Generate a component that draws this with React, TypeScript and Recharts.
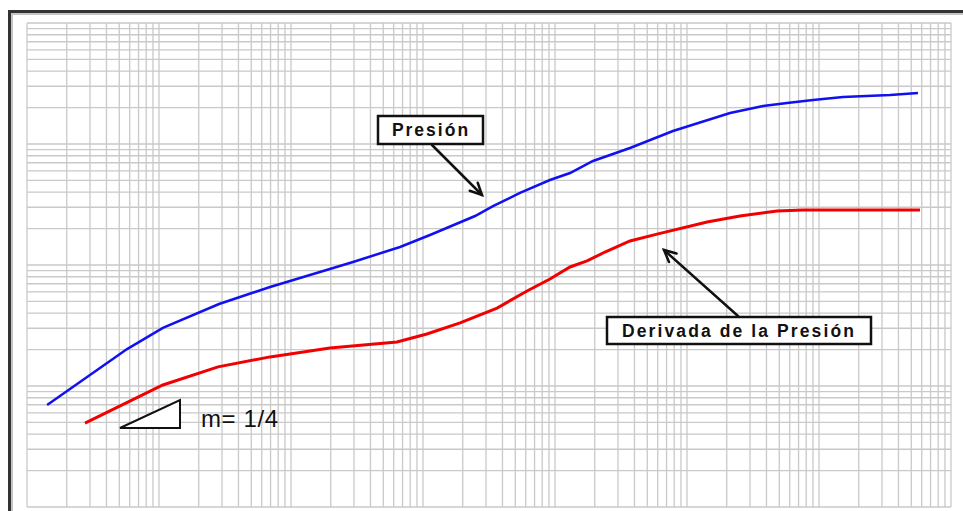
import React from "react";
import { LineChart, Line, XAxis, YAxis, ReferenceLine } from "recharts";

// Log-log grid: 7 decades of time, 4 decades of pressure
const X_DECADES = [0.001, 0.01, 0.1, 1, 10, 100, 1000];
const Y_DECADES = [1, 10, 100, 1000];
const MULTIPLIERS = [1, 2, 3, 4, 5, 6, 7, 8, 9];
const X_TICKS = [...X_DECADES.flatMap((d) => MULTIPLIERS.map((m) => d * m)), 10000];
const Y_TICKS = [...Y_DECADES.flatMap((d) => MULTIPLIERS.map((m) => d * m)), 10000];

// Pressure curve
const presionT = [
  0.00142, 0.00573, 0.0107, 0.0285, 0.0694, 0.197, 0.295, 0.67, 1.13, 2.48, 3.39, 5.43,
  9.16, 13.0, 19.4, 37.0, 78.3, 212, 377, 573, 902, 1521, 3453, 5623,
];
const presionP = [
  6.97, 20.2, 30.2, 47.6, 65.8, 92.7, 105.9, 140.9, 177, 254, 307, 394, 504, 576, 724,
  927, 1280, 1803, 2061, 2183, 2311, 2445, 2541, 2638,
];

// Pressure derivative curve
const derivT = [
  0.00275, 0.0107, 0.028, 0.0694, 0.197, 0.635, 1.07, 1.91, 3.64, 6.14, 9.16, 13.0, 17.5,
  23.9, 37.0, 59.3, 142, 252, 481, 757, 5821,
];
const derivP = [
  4.94, 10.2, 14.4, 17.4, 20.6, 23.1, 26.9, 33.2, 44.1, 61.0, 76.6, 96.3, 108, 128, 158,
  180, 227, 254, 279, 285, 285,
];

const presionData = presionT.map((t, i) => ({ t, p: presionP[i] }));
const derivData = derivT.map((t, i) => ({ t, p: derivP[i] }));

const FONT = "'Liberation Sans', Arial, sans-serif";
const GRID = "#c9c9c9";

const Arrow = ({ x1, y1, x2, y2 }: { x1: number; y1: number; x2: number; y2: number }) => {
  const a = Math.atan2(y2 - y1, x2 - x1);
  const len = 13;
  const spread = 0.45;
  const p1 = [x2 - len * Math.cos(a - spread), y2 - len * Math.sin(a - spread)];
  const p2 = [x2 - len * Math.cos(a + spread), y2 - len * Math.sin(a + spread)];
  return (
    <g stroke="#111" strokeWidth={2.5} fill="none" strokeLinecap="round">
      <line x1={x1} y1={y1} x2={x2} y2={y2} />
      <polyline points={`${p1[0]},${p1[1]} ${x2},${y2} ${p2[0]},${p2[1]}`} />
    </g>
  );
};

export default function App() {
  return (
    <div>
      <div
        style={{
          position: "absolute",
          left: 8,
          top: 10,
          width: 955,
          height: 501,
          borderTop: "3px solid #333",
          borderLeft: "3px solid #333",
          boxShadow: "inset 2px 2px 0 #c4c4c4",
          boxSizing: "border-box",
          background: "#fff",
        }}
      />
      <div style={{ position: "absolute", left: 0, top: 0 }}>
        <LineChart
          width={963}
          height={511}
          margin={{ top: 23, left: 27, right: 12, bottom: 4 }}
        >
          <XAxis
            dataKey="t"
            type="number"
            scale="log"
            domain={[0.001, 10000]}
            ticks={X_TICKS}
            allowDataOverflow
            tick={false}
            tickLine={false}
            axisLine={false}
            height={0}
          />
          <YAxis
            dataKey="p"
            type="number"
            scale="log"
            domain={[1, 10000]}
            ticks={Y_TICKS}
            allowDataOverflow
            tick={false}
            tickLine={false}
            axisLine={false}
            width={0}
          />
          {X_TICKS.map((v) => (
            <ReferenceLine key={`x${v}`} x={v} stroke={GRID} strokeWidth={1.3} ifOverflow="visible" />
          ))}
          {Y_TICKS.map((v) => (
            <ReferenceLine key={`y${v}`} y={v} stroke={GRID} strokeWidth={1.3} ifOverflow="visible" />
          ))}
          <Line
            data={presionData}
            dataKey="p"
            stroke="#1010f0"
            strokeWidth={2.5}
            dot={false}
            isAnimationActive={false}
          />
          <Line
            data={derivData}
            dataKey="p"
            stroke="#f20000"
            strokeWidth={3}
            dot={false}
            isAnimationActive={false}
          />
        </LineChart>
      </div>
      <svg
        width={963}
        height={511}
        style={{ position: "absolute", left: 0, top: 0, pointerEvents: "none" }}
      >
        <rect x={378} y={116} width={105} height={28} fill="#fff" stroke="#111" strokeWidth={2.5} />
        <text
          x={431}
          y={136}
          textAnchor="middle"
          fontFamily={FONT}
          fontWeight="bold"
          fontSize={17.5}
          letterSpacing={2}
          fill="#111"
        >
          Presión
        </text>
        <Arrow x1={432} y1={145} x2={482} y2={195} />

        <rect x={607} y={317} width={264} height={27} fill="#fff" stroke="#111" strokeWidth={2.5} />
        <text
          x={739}
          y={337}
          textAnchor="middle"
          fontFamily={FONT}
          fontWeight="bold"
          fontSize={17.5}
          letterSpacing={2.1}
          fill="#111"
        >
          Derivada de la Presión
        </text>
        <Arrow x1={738} y1={316} x2={664} y2={250} />

        <polygon points="120,428 180,428 180,400" fill="#fff" stroke="#111" strokeWidth={2} />
        <text x={201} y={427} fontFamily={FONT} fontSize={24} letterSpacing={0.6} fill="#111">
          m= 1/4
        </text>
      </svg>
    </div>
  );
}
